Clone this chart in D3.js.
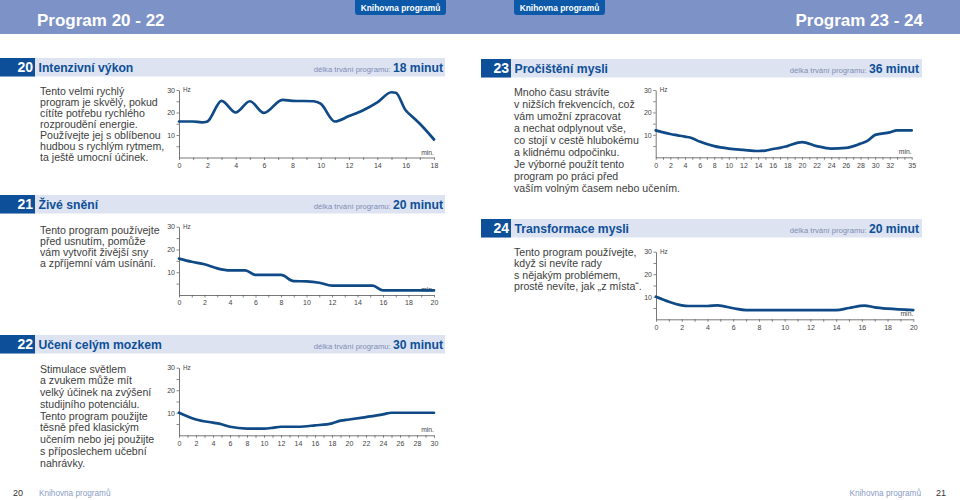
<!DOCTYPE html>
<html><head><meta charset="utf-8">
<script src="https://cdn.jsdelivr.net/npm/d3@7"></script>
<style>body{margin:0;background:#fff}svg{display:block}</style>
</head><body><svg id="c" width="960" height="500"></svg>
<script>
// ---- data ----
const p20Min = [0, 1, 1.6, 2, 3, 4, 5, 6, 7.3, 8, 9.5, 10, 11, 12, 13, 14, 15, 15.3, 16, 16.5, 17, 18];
const p20Hz  = [16, 16, 15.6, 16, 25.2, 20, 25, 19.8, 25.6, 25.2, 25, 23.9, 16, 18.4, 21, 24.5, 29, 28.8, 21, 18, 15, 8];
const p21Min = [0, 1, 2, 3, 4, 5.2, 6, 8, 9, 10, 11, 12, 15.2, 16, 20];
const p21Hz  = [16, 14.6, 13.5, 11.7, 10.8, 10.8, 8.8, 8.8, 6.1, 6, 5.4, 4.1, 4.1, 2, 2];
const p22Min = [0, 2, 4, 5, 6, 8, 10, 11, 12, 14, 16, 18, 19, 20, 22, 24, 25, 30];
const p22Hz  = [10, 7, 5.6, 4.9, 3.8, 3, 3, 3.3, 3.8, 3.8, 4.4, 5.3, 6.5, 7, 8.1, 9.3, 10, 10];
const p23Min = [0, 2, 3, 4, 5, 6, 8, 10, 12, 14, 15, 16, 17, 18, 20, 22, 24, 26, 28, 29, 30, 32, 33, 35];
const p23Hz  = [12, 10.4, 9.8, 9.2, 8.5, 7, 5, 3.9, 3.3, 2.8, 3, 3.7, 4.2, 5, 6.8, 5, 3.9, 4.2, 6.1, 7.4, 10, 11.1, 12, 12];
const p24Min = [0, 1, 2, 2.5, 4, 4.8, 6, 7, 14, 15, 16.2, 17, 18, 20];
const p24Hz  = [10, 7.8, 6.2, 5.9, 5.9, 6.2, 4.9, 4.1, 4.1, 5, 6.1, 5.3, 4.7, 4.1];

const hzTicks = [5, 10, 15, 20, 25, 30];
const hzLabels = [10, 20, 30];
const labels18 = [0, 2, 4, 6, 8, 10, 12, 14, 16, 18];
const labels20 = [0, 2, 4, 6, 8, 10, 12, 14, 16, 18, 20];
const labels30 = [0, 2, 4, 6, 8, 10, 12, 14, 16, 18, 20, 22, 24, 26, 28, 30];
const labels35 = [0, 2, 4, 6, 8, 10, 12, 14, 16, 18, 20, 22, 24, 26, 28, 30, 32, 35];

const programNumbers = ["20", "21", "22", "23", "24"];
const programTitles = ["Intenzivní výkon", "Živé snění", "Učení celým mozkem", "Pročištění mysli", "Transformace mysli"];
const programDurations = ["18 minut", "20 minut", "30 minut", "36 minut", "20 minut"];
const programTexts = [
  ["Tento velmi rychlý", "program je skvělý, pokud", "cítíte potřebu rychlého", "rozproudění energie.", "Používejte jej s oblíbenou", "hudbou s rychlým rytmem,", "ta ještě umocní účinek."],
  ["Tento program používejte", "před usnutím, pomůže", "vám vytvořit živější sny", "a zpříjemní vám usínání."],
  ["Stimulace světlem", "a zvukem může mít", "velký účinek na zvýšení", "studijního potenciálu.", "Tento program použijte", "těsně před klasickým", "učením nebo jej použijte", "s příposlechem učební", "nahrávky."],
  ["Mnoho času strávíte", "v nižších frekvencích, což", "vám  umožní zpracovat", "a nechat odplynout vše,", "co stojí v cestě hlubokému", "a klidnému odpočinku.", "Je výborné použít tento", "program po práci před", "vaším volným časem nebo učením."],
  ["Tento program používejte,", "když si nevíte rady", "s nějakým problémem,", "prostě nevíte, jak „z místa“."]
];
const pageTitles = ["Program 20 - 22", "Program 23 - 24"];
const badgeText = "Knihovna programů";
const durationLabel = "délka trvání programu:";
const pageNumbers = ["20", "21"];

// ---- layout ----
const svg = d3.select("#c");
const NAVY = "#0d4f98", LINE = "#0f4a86", BAND = "#7d92c6", BAR = "#dde3f1";
const TXT = "#3d3d3d";
const FONT = "'Liberation Sans', Arial, sans-serif";

// top band
svg.append("rect").attr("x", 0).attr("y", 0).attr("width", 960).attr("height", 34).attr("fill", BAND);
svg.append("text").attr("x", 37).attr("y", 26).text(pageTitles[0])
  .attr("font-family", FONT).attr("font-weight", 700).attr("font-size", 17).attr("fill", "#fff");
svg.append("text").attr("x", 923).attr("y", 26).attr("text-anchor", "end").text(pageTitles[1])
  .attr("font-family", FONT).attr("font-weight", 700).attr("font-size", 17).attr("fill", "#fff");
[[355, 446], [514, 605]].forEach(([x0, x1]) => {
  svg.append("path").attr("d", `M${x0},0H${x1}V12Q${x1},15 ${x1-3},15H${x0+3}Q${x0},15 ${x0},12Z`).attr("fill", "#0b59a8");
  svg.append("text").attr("x", (x0 + x1) / 2).attr("y", 10.5).attr("text-anchor", "middle").text(badgeText)
    .attr("font-family", FONT).attr("font-weight", 700).attr("font-size", 8.4).attr("fill", "#fff");
});

// section headers
const headers = [
  {x0: 0, box: 35, x1: 445, y: 58, durEnd: 443},
  {x0: 0, box: 35, x1: 445, y: 195, durEnd: 443},
  {x0: 0, box: 35, x1: 445, y: 335, durEnd: 443},
  {x0: 481, box: 30, x1: 922, y: 59, durEnd: 919},
  {x0: 481, box: 30, x1: 922, y: 219, durEnd: 919}
];
headers.forEach((h, i) => {
  const g = svg.append("g");
  g.append("rect").attr("x", h.x0).attr("y", h.y).attr("width", h.x1 - h.x0).attr("height", 18.5).attr("fill", BAR);
  g.append("rect").attr("x", h.x0).attr("y", h.y).attr("width", h.box).attr("height", 18.5).attr("fill", NAVY);
  g.append("text").attr("x", h.x0 + h.box - 2).attr("y", h.y + 14).attr("text-anchor", "end").text(programNumbers[i])
    .attr("font-family", FONT).attr("font-weight", 700).attr("font-size", 14).attr("fill", "#fff");
  g.append("text").attr("x", h.x0 + h.box + 3.5).attr("y", h.y + 13.5).text(programTitles[i])
    .attr("font-family", FONT).attr("font-weight", 700).attr("font-size", 12.2).attr("fill", NAVY);
  const dur = g.append("text").attr("x", h.durEnd).attr("y", h.y + 13.5).attr("text-anchor", "end")
    .attr("font-family", FONT);
  dur.append("tspan").text(durationLabel + " ").attr("font-size", 7.7).attr("fill", "#7d8db5");
  dur.append("tspan").text(programDurations[i]).attr("font-size", 12.2).attr("font-weight", 700).attr("fill", NAVY);
});

// body texts
const bodies = [
  {x: 40, y: 94.5, lh: 11},
  {x: 40, y: 233.5, lh: 11.2},
  {x: 40, y: 372.5, lh: 11.75},
  {x: 514, y: 96, lh: 12.05},
  {x: 514, y: 255.5, lh: 11.6}
];
bodies.forEach((b, i) => {
  const t = svg.append("text").attr("font-family", FONT).attr("font-size", 10.6).attr("fill", TXT);
  programTexts[i].forEach((line, j) => {
    t.append("tspan").attr("x", b.x).attr("y", b.y + j * b.lh).text(line);
  });
});

// charts
const charts = [
  {min: p20Min, hz: p20Hz, maxMin: 18, labels: labels18, x0: 179, x1: 434, yTop: 90, yBot: 157.5},
  {min: p21Min, hz: p21Hz, maxMin: 20, labels: labels20, x0: 179, x1: 434, yTop: 226.7, yBot: 295},
  {min: p22Min, hz: p22Hz, maxMin: 30, labels: labels30, x0: 179, x1: 434, yTop: 367.7, yBot: 435.3},
  {min: p23Min, hz: p23Hz, maxMin: 35, labels: labels35, x0: 655.7, x1: 911.7, yTop: 90, yBot: 157.3},
  {min: p24Min, hz: p24Hz, maxMin: 20, labels: labels20, x0: 656, x1: 913.3, yTop: 251.7, yBot: 319.3}
];
const AX = "#555";
charts.forEach(c => {
  const x = d3.scaleLinear().domain([0, c.maxMin]).range([c.x0, c.x1]);
  const y = d3.scaleLinear().domain([0, 30]).range([c.yBot, c.yTop]);
  const g = svg.append("g");
  const minuteTicks = d3.range(0, c.maxMin + 1);
  const xa = g.append("g").attr("transform", `translate(0,${c.yBot})`)
    .call(d3.axisBottom(x).tickValues(minuteTicks).tickSize(2.5).tickSizeOuter(0).tickPadding(2.8)
      .tickFormat(d => c.labels.includes(d) ? d : ""));
  const ya = g.append("g").attr("transform", `translate(${c.x0},0)`)
    .call(d3.axisLeft(y).tickValues(hzTicks).tickSize(2.5).tickSizeOuter(0).tickPadding(1.5)
      .tickFormat(d => hzLabels.includes(d) ? d : ""));
  [xa, ya].forEach(a => {
    a.select(".domain").attr("stroke", AX).attr("stroke-width", 0.8);
    a.selectAll(".tick line").attr("stroke", AX).attr("stroke-width", 0.7);
    a.selectAll("text").attr("font-family", FONT).attr("font-size", 7).attr("fill", "#444");
  });
  g.append("text").attr("x", c.x0 + 4).attr("y", c.yTop + 2.2).text("Hz")
    .attr("font-family", FONT).attr("font-size", 6.3).attr("fill", "#444");
  g.append("text").attr("x", c.x1).attr("y", c.yBot - 3).attr("text-anchor", "end").text("min.")
    .attr("font-family", FONT).attr("font-size", 6.8).attr("fill", "#444");
  const line = d3.line().x((d, i) => x(c.min[i])).y(d => y(d)).curve(d3.curveMonotoneX);
  g.append("path").attr("d", line(c.hz)).attr("fill", "none").attr("stroke", LINE)
    .attr("stroke-width", 2.7).attr("stroke-linejoin", "round").attr("stroke-linecap", "round");
});

// footers
svg.append("text").attr("x", 13).attr("y", 495.5).text(pageNumbers[0])
  .attr("font-family", FONT).attr("font-size", 9).attr("fill", "#333");
svg.append("text").attr("x", 39).attr("y", 495.5).text(badgeText)
  .attr("font-family", FONT).attr("font-size", 8.2).attr("fill", "#8a9bc6");
svg.append("text").attr("x", 921).attr("y", 495.5).attr("text-anchor", "end").text(badgeText)
  .attr("font-family", FONT).attr("font-size", 8.2).attr("fill", "#8a9bc6");
svg.append("text").attr("x", 946).attr("y", 495.5).attr("text-anchor", "end").text(pageNumbers[1])
  .attr("font-family", FONT).attr("font-size", 9).attr("fill", "#333");
</script></body></html>
